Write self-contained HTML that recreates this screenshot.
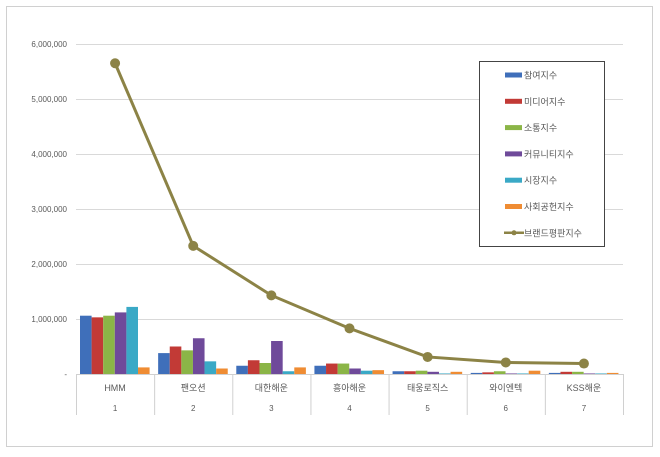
<!DOCTYPE html>
<html><head><meta charset="utf-8"><style>
body{margin:0;background:#fff;font-family:"Liberation Sans","Noto Sans CJK KR",sans-serif}
svg text{font-family:"Liberation Sans","Noto Sans CJK KR",sans-serif}
</style></head><body>
<svg id="c" width="660" height="452">
<rect x="6.5" y="6.5" width="646" height="440" fill="#fff" stroke="#d0d0d0"/>
<g id="grid"></g><g id="bars"></g><g id="line"></g><g id="axis"></g>
<g>
<rect x="479.5" y="61.5" width="125" height="185" fill="#fff" stroke="#444"/>
<g id="leg"></g>
</g>
</svg>
<script>
const categories=["HMM","팬오션","대한해운","흥아해운","태웅로직스","와이엔텍","KSS해운"];
const ranks=["1","2","3","4","5","6","7"];
const seriesNames=["참여지수","미디어지수","소통지수","커뮤니티지수","시장지수","사회공헌지수"];
const participation=[1060000,380000,150000,150000,50000,20000,20000];
const media=[1030000,500000,250000,190000,50000,30000,40000];
const communication=[1060000,430000,200000,190000,60000,50000,40000];
const community=[1120000,650000,600000,100000,40000,10000,10000];
const market=[1220000,230000,50000,60000,10000,10000,10000];
const social=[120000,100000,120000,70000,40000,60000,20000];
const brand=[5650000,2330000,1430000,830000,310000,210000,190000];
const yTicks=[0,1000000,2000000,3000000,4000000,5000000,6000000];
const yTickLabels=["-","1,000,000","2,000,000","3,000,000","4,000,000","5,000,000","6,000,000"];
const colors=["#3f6fba","#c23a36","#8bb547","#6f4a9a","#3aa9c6","#ef8c33"];
const series=[participation,media,communication,community,market,social];
const NS="http://www.w3.org/2000/svg";
const X0=76,X1=623,Y0=374,Y1=44,MAX=6000000;
const bw=(X1-X0)/categories.length;
const y=v=>Y0-(v/MAX)*(Y0-Y1);
const xc=i=>X0+bw*(i+0.5);
function mk(p,t,a){const e=document.createElementNS(NS,t);for(const k in a)e.setAttribute(k,a[k]);p.appendChild(e);return e;}
const G=id=>document.getElementById(id);
yTicks.forEach((t,i)=>{
 if(i>0){const l=mk(G('grid'),'line',{x1:X0,x2:X1,y1:y(t)+.5,y2:y(t)+.5,stroke:'#d9d9d9'});
 
 }
 const tx=mk(G('axis'),'text',{x:67,y:y(t)+3,'text-anchor':'end','font-size':'8',fill:'#595959'});
 tx.textContent=yTickLabels[i];
 
 
});
mk(G('axis'),'line',{x1:X0,x2:X1,y1:Y0+.5,y2:Y0+.5,stroke:'#d0d0d0'});
for(let i=0;i<=categories.length;i++){mk(G('axis'),'line',{x1:X0+bw*i+.5,x2:X0+bw*i+.5,y1:Y0,y2:415,stroke:'#d0d0d0'});}
categories.forEach((c,i)=>{
 const t=mk(G('axis'),'text',{x:xc(i),y:391,'text-anchor':'middle','font-size':'9',fill:'#595959'});t.textContent=c;
 
 
 const r=mk(G('axis'),'text',{x:xc(i),y:411,'text-anchor':'middle','font-size':'8',fill:'#595959'});r.textContent=ranks[i];
 
 
});
const barW=11.6;
series.forEach((s,si)=>s.forEach((v,i)=>{
 const x=X0+bw*i+4+si*barW;
 const b=mk(G('bars'),'rect',{x:x,y:y(v),width:barW,height:Y0-y(v),fill:colors[si]});
 
 
}));
const pl=mk(G('line'),'polyline',{points:brand.map((v,i)=>xc(i)+','+y(v)).join(' '),fill:'none',stroke:'#8c8346','stroke-width':3});


brand.forEach((v,i)=>{const p=mk(G('line'),'circle',{cx:xc(i),cy:y(v),r:5,fill:'#8c8346'});
 
 });
const legNames=seriesNames.concat(["브랜드평판지수"]);
legNames.forEach((n,i)=>{
 const yy=75+i*26.3;
 if(i<6){mk(G('leg'),'rect',{x:505,y:yy-2.5,width:17,height:5,fill:colors[i]});}
 else{mk(G('leg'),'line',{x1:504,x2:524,y1:yy,y2:yy,stroke:'#8c8346','stroke-width':2.5});mk(G('leg'),'circle',{cx:514,cy:yy,r:2.5,fill:'#8c8346'});}
 const t=mk(G('leg'),'text',{x:524,y:yy+3.5,'font-size':'9',fill:'#595959'});t.textContent=n;
 
 
});
</script>
</body></html>
